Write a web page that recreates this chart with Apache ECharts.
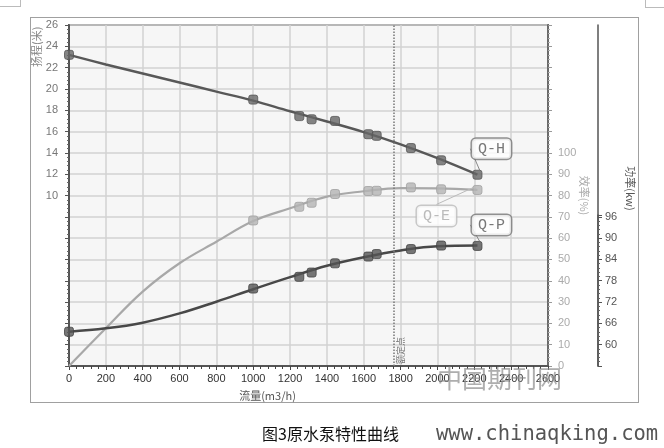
<!DOCTYPE html>
<html>
<head>
<meta charset="utf-8">
<script src="https://cdn.jsdelivr.net/npm/echarts@6/dist/echarts.min.js"></script>
<style>
html,body{margin:0;padding:0;background:#fff;}
#frame{position:absolute;left:30px;top:17px;width:607px;height:384px;border:1px solid #a0a0a0;}
#tl{position:absolute;left:-1px;top:-1px;width:20px;height:6px;border:1px solid #bbb;}
#tr{position:absolute;left:645px;top:-1px;width:30px;height:7px;border:1px solid #bbb;}
#chart{position:absolute;left:0;top:0;width:664px;height:448px;}
</style>
</head>
<body>
<div id="frame"></div><div id="tl"></div><div id="tr"></div>
<div id="chart"></div>
<script>
// ---- data ----
const fitFlow = [0, 200, 400, 600, 800, 1000, 1200, 1400, 1600, 1800, 2000, 2217];
const headFit = [23.2, 22.3, 21.45, 20.6, 19.75, 18.9, 17.9, 16.95, 15.95, 14.8, 13.5, 11.95];
const effFit = [0, 17.7, 34.9, 48.2, 58.3, 68.0, 74.0, 79.5, 82.0, 83.5, 83.3, 82.6];
const powerFit = [63.65, 64.6, 66.2, 68.8, 72.1, 75.6, 79.0, 82.2, 84.6, 86.5, 87.7, 87.9];

const measFlow = [0, 1000, 1250, 1317, 1444, 1625, 1670, 1856, 2020, 2217];
const headMeas = [23.2, 19.0, 17.45, 17.15, 17.0, 15.75, 15.6, 14.45, 13.3, 11.95];
const effMeas = [null, 68.3, 74.7, 76.6, 80.7, 82.1, 82.2, 83.8, 82.9, 82.6];
const powerMeas = [63.65, 75.8, 79.1, 80.3, 82.9, 84.8, 85.5, 86.9, 87.9, 87.8];

const ratedFlow = 1765;
const curveNames = ['Q-H', 'Q-E', 'Q-P'];
const xTicks = [0, 200, 400, 600, 800, 1000, 1200, 1400, 1600, 1800, 2000, 2200, 2400, 2600];
const headTicks = [10, 12, 14, 16, 18, 20, 22, 24, 26];
const effTicks = [0, 10, 20, 30, 40, 50, 60, 70, 80, 90, 100];
const powerTicks = [60, 66, 72, 78, 84, 90, 96];

const chart = echarts.init(document.getElementById('chart'), null, {renderer: 'canvas'});

function pairs(xs, ys) {
  return xs.map((x, i) => ys[i] == null ? null : [x, ys[i]]).filter(p => p);
}
function measured(ys, name, styleObj) {
  const d = pairs(measFlow, ys);
  const last = d.length - 1;
  return d.map((p, i) => i === last ? {value: p, label: Object.assign({show: true, formatter: name}, styleObj)} : p);
}
const boxLabel = (color, border) => ({
  position: 'inside', fontFamily: 'Liberation Mono', fontSize: 15, color: color,
  backgroundColor: '#fff', borderColor: border, borderWidth: 1.5, borderRadius: 4,
  padding: [3, 6, 2, 6]
});

const axisLabelFont = {fontFamily: 'Liberation Sans', fontSize: 11};
const gridLine = {color: '#d2d2d2', width: 1.5};

chart.setOption({
  animation: false,
  grid: [
    {left: 69, right: 116, top: 25, bottom: 82, show: true, backgroundColor: '#f6f6f6',
     borderColor: '#6a6a6a', borderWidth: 2, outerBoundsMode: 'none', containLabel: false},
    {left: 69, right: 116, top: 215, bottom: 82, show: false, outerBoundsMode: 'none', containLabel: false}
  ],
  xAxis: [
    {
      type: 'value', min: 0, max: 2600, interval: 200, gridIndex: 0,
      name: '流量(m3/h)', nameLocation: 'middle', nameGap: 24, nameMoveOverlap: false,
      nameTextStyle: {fontFamily: 'Noto Sans CJK SC', fontSize: 11, color: '#555', padding: [0, 82, 0, 0]},
      axisLine: {onZero: false, lineStyle: {color: '#555', width: 2}},
      axisTick: {show: true, length: 4, lineStyle: {color: '#444'}},
      minorTick: {show: true, splitNumber: 5, length: 3, lineStyle: {color: '#444'}},
      axisLabel: Object.assign({color: '#333', margin: 7, formatter: v => xTicks.includes(v) ? String(v) : ''}, axisLabelFont),
      splitLine: {show: true, lineStyle: gridLine}
    },
    {
      type: 'value', min: 0, max: 2600, interval: 200, gridIndex: 1, show: false
    }
  ],
  yAxis: [
    {
      type: 'value', min: -6, max: 26, interval: 2, position: 'left', gridIndex: 0,
      name: '扬程(米)', nameLocation: 'end', nameRotate: 90, nameGap: -42, nameMoveOverlap: false,
      nameTextStyle: {fontFamily: 'Noto Sans CJK SC', fontSize: 11, color: '#888',
                      align: 'left', verticalAlign: 'bottom', lineHeight: 64},
      axisLine: {show: true, onZero: false, lineStyle: {color: '#555', width: 2}},
      axisTick: {show: true, length: 4, lineStyle: {color: '#555'}},
      minorTick: {show: true, splitNumber: 5, length: 2, lineStyle: {color: '#666'}},
      axisLabel: Object.assign({color: '#777', margin: 11, formatter: v => headTicks.includes(v) ? String(v) : ''}, axisLabelFont),
      splitLine: {show: true, lineStyle: gridLine}
    },
    {
      type: 'value', min: 0, max: 160, interval: 10, position: 'right', gridIndex: 0,
      name: '效率(%)', nameLocation: 'middle', nameRotate: -90, nameGap: 31, nameMoveOverlap: false,
      nameTextStyle: {fontFamily: 'Noto Sans CJK SC', fontSize: 11, color: '#aaa'},
      axisLine: {show: true, onZero: false, lineStyle: {color: '#6a6a6a', width: 2}},
      axisTick: {show: true, length: 4, lineStyle: {color: '#999'}},
      minorTick: {show: true, splitNumber: 5, length: 2, lineStyle: {color: '#aaa'}},
      axisLabel: Object.assign({color: '#aaa', margin: 10, formatter: v => effTicks.includes(v) ? String(v) : ''}, axisLabelFont),
      splitLine: {show: false}
    },
    {
      // plain line continuing the power axis up to the top of the plot
      type: 'value', min: 0, max: 1, position: 'right', offset: 50, gridIndex: 0,
      name: '功率(kw)', nameLocation: 'middle', nameRotate: -90, nameGap: 27, nameMoveOverlap: false,
      nameTextStyle: {fontFamily: 'Noto Sans CJK SC', fontSize: 11, color: '#555', padding: [0, 14, 0, 0]},
      axisLine: {show: true, onZero: false, lineStyle: {color: '#555', width: 1.5}},
      axisTick: {show: false}, axisLabel: {show: false}, splitLine: {show: false}
    },
    {
      type: 'value', min: 54, max: 96.5, interval: 6, position: 'right', offset: 50, gridIndex: 1,
      axisLine: {show: true, onZero: false, lineStyle: {color: '#555', width: 1.5}},
      axisTick: {show: true, length: 4, lineStyle: {color: '#555'}},
      minorTick: {show: true, splitNumber: 5, length: 2, lineStyle: {color: '#666'}},
      axisLabel: Object.assign({color: '#555', margin: 7, formatter: v => powerTicks.includes(v) ? String(v) : ''}, axisLabelFont),
      splitLine: {show: false}
    }
  ],
  series: [
    {
      type: 'line', xAxisIndex: 0, yAxisIndex: 0, data: pairs(fitFlow, headFit), smooth: 0.4, showSymbol: false,
      lineStyle: {color: '#585858', width: 2.5}, z: 3,
      markLine: {
        silent: true, symbol: 'none',
        lineStyle: {color: '#777', type: 'dotted', width: 1.5},
        label: {show: true, formatter: '额定点', position: 'insideStartBottom', fontSize: 9,
                fontFamily: 'Noto Sans CJK SC', color: '#777', distance: 2},
        data: [{xAxis: ratedFlow}]
      }
    },
    {
      type: 'line', xAxisIndex: 0, yAxisIndex: 1, data: pairs(fitFlow, effFit), smooth: 0.4, showSymbol: false,
      lineStyle: {color: '#a8a8a8', width: 2.2}, z: 3
    },
    {
      type: 'line', xAxisIndex: 1, yAxisIndex: 3, data: pairs(fitFlow, powerFit), smooth: 0.4, showSymbol: false,
      lineStyle: {color: '#484848', width: 2.5}, z: 3
    },
    {
      type: 'scatter', xAxisIndex: 0, yAxisIndex: 0, symbol: 'roundRect', symbolSize: 9, z: 4,
      itemStyle: {color: '#666', borderColor: '#555', borderWidth: 1},
      data: measured(headMeas, curveNames[0], boxLabel('#555', '#777')),
      labelLayout: {dx: 14, dy: -26},
      labelLine: {show: true, lineStyle: {color: '#888', width: 1}}
    },
    {
      type: 'scatter', xAxisIndex: 0, yAxisIndex: 1, symbol: 'roundRect', symbolSize: 9, z: 4,
      itemStyle: {color: '#b4b4b4', borderColor: '#a0a0a0', borderWidth: 1},
      data: measured(effMeas, curveNames[1], boxLabel('#aaa', '#bbb')),
      labelLayout: {dx: -41, dy: 26},
      labelLine: {show: true, lineStyle: {color: '#bbb', width: 1}}
    },
    {
      type: 'scatter', xAxisIndex: 1, yAxisIndex: 3, symbol: 'roundRect', symbolSize: 9, z: 4,
      itemStyle: {color: '#555', borderColor: '#444', borderWidth: 1},
      data: measured(powerMeas, curveNames[2], boxLabel('#555', '#777')),
      labelLayout: {dx: 14, dy: -21},
      labelLine: {show: true, lineStyle: {color: '#888', width: 1}}
    }
  ],
  graphic: [
    {type: 'text', left: 262, top: 426, style: {text: '图3原水泵特性曲线', fontFamily: 'Noto Sans CJK SC', fontSize: 16, fill: '#111'}},
    {type: 'text', left: 436, top: 424, style: {text: 'www.chinaqking.com', fontFamily: 'DejaVu Sans Mono', fontSize: 20.5, fill: '#555'}},
    {type: 'text', left: 437, top: 366, z: 100, style: {text: '中国期刊网', fontFamily: 'Noto Sans CJK SC', fontSize: 25, fill: 'rgba(140,140,140,0.7)'}}
  ]
});
</script>
</body>
</html>
